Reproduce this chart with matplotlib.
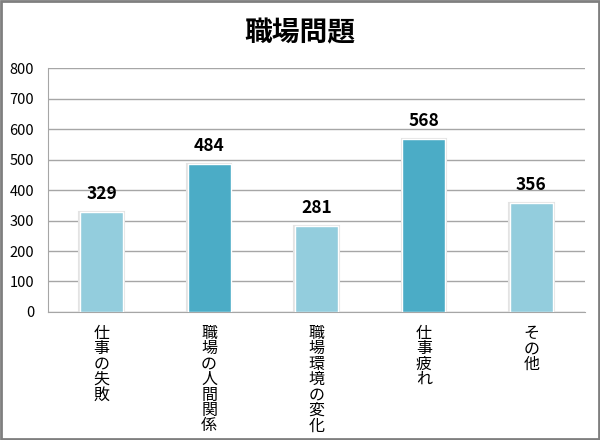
import matplotlib
matplotlib.use('Agg')
import matplotlib.pyplot as plt
from matplotlib.patches import Rectangle

plt.rcParams['font.family'] = ['Noto Sans CJK JP', 'DejaVu Sans']

## DADOS
categorias = ['仕事の失敗', '職場の人間関係', '職場環境の変化', '仕事疲れ', 'その他']
valores = [329, 484, 281, 568, 356]
cores = ['#93CDDD', '#4BACC6', '#93CDDD', '#4BACC6', '#93CDDD']
yticks = [0, 100, 200, 300, 400, 500, 600, 700, 800]

fig = plt.figure(figsize=(6, 4.4), dpi=100)
ax = fig.add_axes([0.08, 0.291, 0.895, 0.554])

x = list(range(len(categorias)))
# sombra clara atras das barras
ax.bar(x, valores, width=0.415, color='none', edgecolor='#e3e3e3', linewidth=1.5, zorder=2)
ax.bar(x, valores, width=0.40, color=cores, edgecolor='white', linewidth=1.0, zorder=3)

for xi, v in zip(x, valores):
    ax.text(xi, v + 30, str(v), ha='center', va='bottom', fontsize=12.5, fontweight='bold', zorder=4)

ax.set_xlim(-0.5, len(categorias) - 0.5)
ax.set_ylim(0, 800)
ax.set_yticks(yticks)
ax.set_yticklabels([str(t) for t in yticks], fontsize=10.5)
ax.yaxis.grid(True, color='#a6a6a6', linewidth=1, zorder=0)
ax.set_axisbelow(True)
ax.tick_params(axis='y', length=0, pad=10)
ax.tick_params(axis='x', length=0)
ax.set_xticks(x)
ax.set_xticklabels([])

# rotulos verticais (um caractere por linha)
for xi, cat in zip(x, categorias):
    ax.text(xi, -42, '\n'.join(cat), ha='center', va='top', fontsize=11.5,
            linespacing=0.88, transform=ax.transData)

for lado in ['top', 'right']:
    ax.spines[lado].set_visible(False)
ax.spines['left'].set_color('#a6a6a6')
ax.spines['bottom'].set_color('#a6a6a6')

fig.text(0.5, 0.925, '職場問題', ha='center', va='center', fontsize=20, fontweight='bold')

# borda da figura
fig.patches.append(Rectangle((0.002, 0.003), 0.996, 0.994, transform=fig.transFigure,
                             fill=False, edgecolor='#7f7f7f', linewidth=2))

fig.savefig('out.png', dpi=100)
